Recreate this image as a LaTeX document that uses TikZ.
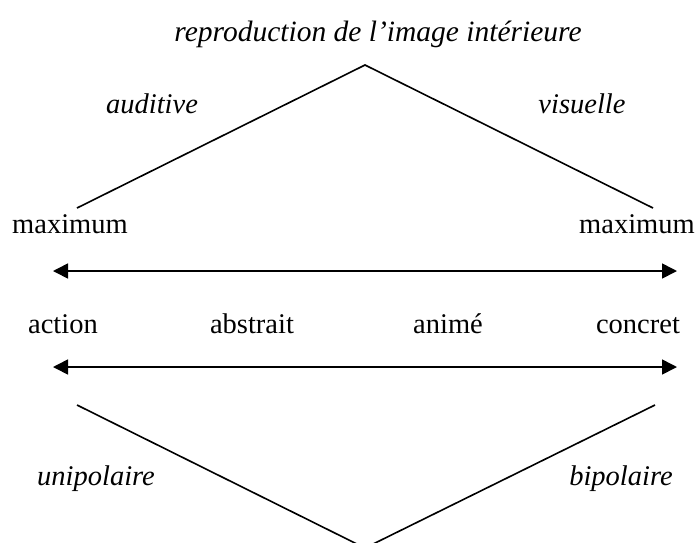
\documentclass[tikz,border=0pt]{standalone}
\usepackage{fontspec}
\setmainfont{Liberation Serif}
\usetikzlibrary{arrows.meta}
\begin{document}
\begin{tikzpicture}[x=1pt,y=-1pt,
  lbl/.style={inner sep=0pt,anchor=base,font=\fontsize{28.5}{34}\selectfont},
  ilbl/.style={lbl,font=\fontsize{28.5}{34}\selectfont\itshape},
  ln/.style={line width=1.6pt,black},
  dbl/.style={line width=1.6pt,black,{Triangle[length=15pt,width=15pt]}-{Triangle[length=15pt,width=15pt]}}]
\useasboundingbox (0,0) rectangle (699,542);
% texts
\node[ilbl,font=\fontsize{29.5}{35}\selectfont\itshape] (repro) at (378,41) {reproduction de l'image intérieure};
\node[ilbl] (aud) at (152,113) {auditive};
\node[ilbl] (vis) at (582,113) {visuelle};
\node[lbl] (maxl) at (70,233) {maximum};
\node[lbl] (maxr) at (637,233) {maximum};
\node[lbl] (act) at (63,333) {action};
\node[lbl] (abs) at (252,333) {abstrait};
\node[lbl] (ani) at (448,333) {animé};
\node[lbl] (con) at (638,333) {concret};
\node[ilbl] (uni) at (96,485) {unipolaire};
\node[ilbl] (bip) at (621,485) {bipolaire};
% top wedge
\coordinate (tapex) at (365,65);
\coordinate (tl) at (77,208);
\coordinate (tr) at (653,208);
\draw[ln] (tl) -- (tapex) -- (tr);
% arrows
\coordinate (a1l) at (53,271);
\coordinate (a1r) at (677,271);
\coordinate (a2l) at (53,367);
\coordinate (a2r) at (677,367);
\draw[dbl] (a1l) -- (a1r);
\draw[dbl] (a2l) -- (a2r);
% bottom wedge
\coordinate (bl) at (77,405);
\coordinate (br) at (655,405);
\coordinate (bapex) at (365,548);
\draw[ln] (bl) -- (bapex) -- (br);
\end{tikzpicture}
\end{document}
